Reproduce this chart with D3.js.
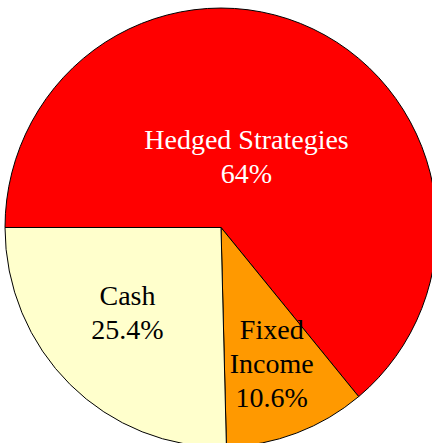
<!DOCTYPE html>
<html>
<head>
<meta charset="utf-8">
<script src="https://cdn.jsdelivr.net/npm/d3@7/dist/d3.min.js"></script>
<style>
  html, body { margin: 0; padding: 0; background: #fff; }
  svg { display: block; }
  .slice { stroke: #000; stroke-width: 1; }
  .label { font-family: "Liberation Serif", "Times New Roman", serif; font-size: 28px; text-anchor: middle; }
</style>
</head>
<body>
<svg id="chart"></svg>
<script>
// Chart data
var categories = ["Hedged Strategies", "Fixed Income", "Cash"];
var shares = [64, 10.6, 25.4];
var valueLabels = ["64%", "10.6%", "25.4%"];

var labelLines = [["Hedged Strategies"], ["Fixed", "Income"], ["Cash"]];
var colors = ["#ff0000", "#ff9900", "#ffffcc"];
var textColors = ["#ffffff", "#000000", "#000000"];
// distance of each label from the pie centre, as a share of the radius
var labelRadius = [0.31, 0.71, 0.6];

var width = 432;
var height = 443;
var cx = 221;
var cy = 227.5;
var radius = 216;
var squash = 1.016;
var lineHeight = 34;

var svg = d3.select("#chart").attr("width", width).attr("height", height);

var pie = d3
  .pie()
  .sort(null)
  .startAngle(-Math.PI / 2)
  .endAngle((3 * Math.PI) / 2)
  .value(d => d);

var arcs = pie(shares);

var arc = d3.arc().innerRadius(0).outerRadius(radius);

var pieGroup = svg
  .append("g")
  .attr("transform", `translate(${cx},${cy}) scale(1,${squash})`);

pieGroup
  .selectAll("path")
  .data(arcs)
  .enter()
  .append("path")
  .attr("class", "slice")
  .attr("d", arc)
  .attr("fill", (d, i) => colors[i])
  .attr("vector-effect", "non-scaling-stroke");

// Labels
svg
  .append("g")
  .attr("class", "labels")
  .selectAll("text")
  .data(arcs)
  .enter()
  .append("text")
  .attr("class", "label")
  .attr("fill", (d, i) => textColors[i])
  .each(function (d, i) {
    var r = radius * labelRadius[i];
    var pos = d3.arc().innerRadius(r).outerRadius(r).centroid(d);
    var x = cx + pos[0] - 3;
    var y = cy + pos[1] * squash;
    var lines = labelLines[i].concat([valueLabels[i]]);
    var n = lines.length;
    var el = d3.select(this);
    lines.forEach(function (t, j) {
      el.append("tspan")
        .attr("x", x)
        .attr("y", y + (j - (n - 1) / 2) * lineHeight)
        .text(t);
    });
  });
</script>
</body>
</html>
